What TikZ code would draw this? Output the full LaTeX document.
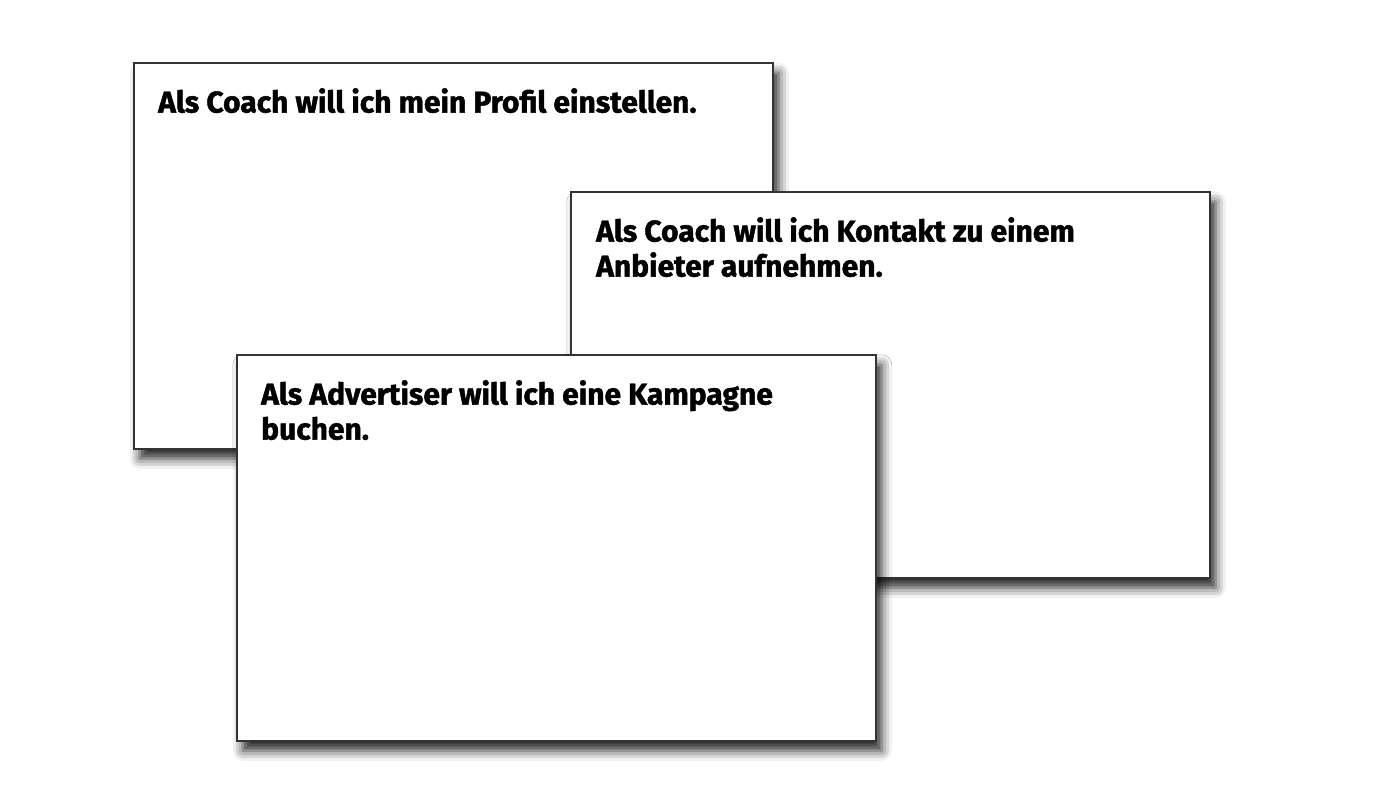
\documentclass[tikz,border=0pt]{standalone}
\usepackage{fontspec}
\setmainfont{Fira Sans}[BoldFeatures={FakeBold=1.5}]
\usepackage{tikz}
\usetikzlibrary{shadows.blur}

\tikzset{
  card/.style={draw=black!80, line width=1.5pt, fill=white, minimum width=639pt, minimum height=386pt,
    anchor=north west, inner sep=0pt,
    blur shadow={shadow xshift=6pt, shadow yshift=-10pt, shadow blur radius=10pt, shadow opacity=85}},
  cardtext/.style={anchor=north west, align=left, inner sep=0pt, font=\fontsize{30}{35}\selectfont\bfseries}
}

\begin{document}
\begin{tikzpicture}[x=1pt, y=-1pt]
        \useasboundingbox (0,0) rectangle (1388,804);

        % Story cards
        \node[card] (profil) at (133,62) {};
        \node[cardtext] (profiltext) at (158,88) {Als Coach will ich mein Profil einstellen.};

        \node[card] (kontakt) at (570,191) {};
        \node[cardtext] (kontakttext) at (596,217) {Als Coach will ich Kontakt zu einem\\Anbieter aufnehmen.};

        \node[card] (kampagne) at (236,354) {};
        \node[cardtext] (kampagnetext) at (261,380) {Als Advertiser will ich eine Kampagne\\buchen.};
    \end{tikzpicture}
\end{document}
